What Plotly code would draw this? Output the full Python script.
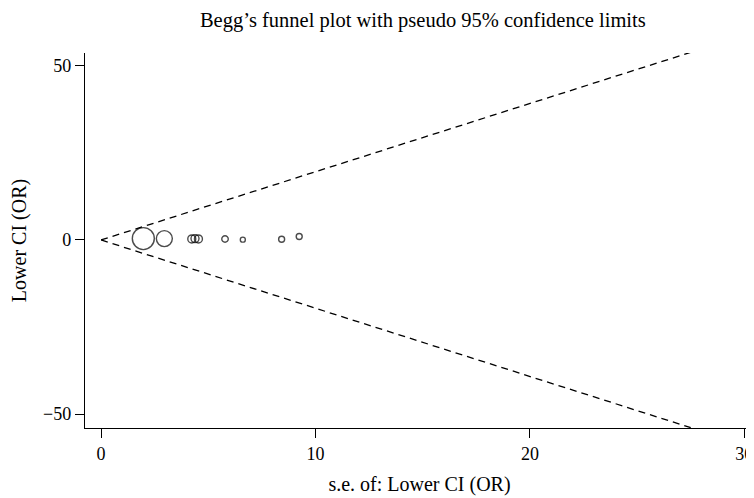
import plotly.graph_objects as go

# Study data: standard error (x) and effect (y), with marker diameter in px
se_values = [1.97, 2.95, 4.23, 4.38, 4.54, 5.78, 6.61, 8.42, 9.24]
effect_values = [0.4, 0.4, 0.3, 0.4, 0.3, 0.3, 0.1, 0.2, 1.0]
marker_sizes = [22, 16, 8, 8, 8, 6.5, 5, 6, 6]

# Pseudo 95% confidence limit lines
limit_se = [0, 27.5]
z_value = 1.96
upper_limit = [z_value * s for s in limit_se]
lower_limit = [-z_value * s for s in limit_se]

x_ticks = [0, 10, 20, 30]
y_ticks = [-50, 0, 50]

font_family = "Liberation Serif, Times New Roman, serif"

fig = go.Figure()
fig.add_trace(go.Scatter(x=limit_se, y=upper_limit, mode="lines",
                         line=dict(color="black", width=1.3, dash="7px,5px"),
                         showlegend=False, hoverinfo="skip"))
fig.add_trace(go.Scatter(x=limit_se, y=lower_limit, mode="lines",
                         line=dict(color="black", width=1.3, dash="7px,5px"),
                         showlegend=False, hoverinfo="skip"))
fig.add_trace(go.Scatter(x=se_values, y=effect_values, mode="markers",
                         marker=dict(size=marker_sizes, color="rgba(0,0,0,0)",
                                     line=dict(color="black", width=1.4)),
                         showlegend=False))

# The page body adds an 8px margin, so the figure is sized to fit inside the window
fig.update_layout(
    width=746, height=490,
    margin=dict(l=77, r=0, t=45, b=70),
    paper_bgcolor="white", plot_bgcolor="white",
    font=dict(family=font_family, size=18, color="black"),
    title=dict(text="Begg\u2019s funnel plot with pseudo 95% confidence limits",
               x=0.505, xref="paper", xanchor="center", y=0.9755, yanchor="middle",
               font=dict(family=font_family, size=20.5, color="black")),
    xaxis=dict(range=[-0.75, 30.45], tickvals=x_ticks, showgrid=False, zeroline=False,
               automargin=False,
               showline=True, linecolor="black", linewidth=1.4,
               ticks="outside", ticklen=9, tickcolor="black", tickwidth=1.4,
               tickfont=dict(family=font_family, size=18),
               title=dict(text="s.e. of: Lower CI (OR)", standoff=14,
                          font=dict(family=font_family, size=20))),
    yaxis=dict(range=[-54.0, 53.7], tickvals=y_ticks, ticktext=["\u221250", "0", "50"],
               showgrid=False, zeroline=False, automargin=False,
               showline=True, linecolor="black", linewidth=1.4,
               ticks="outside", ticklen=9, tickcolor="black", tickwidth=1.4,
               tickfont=dict(family=font_family, size=18),
               title=dict(text="Lower CI (OR)", standoff=20,
                          font=dict(family=font_family, size=20))),
)

fig.write_html("out.html")
